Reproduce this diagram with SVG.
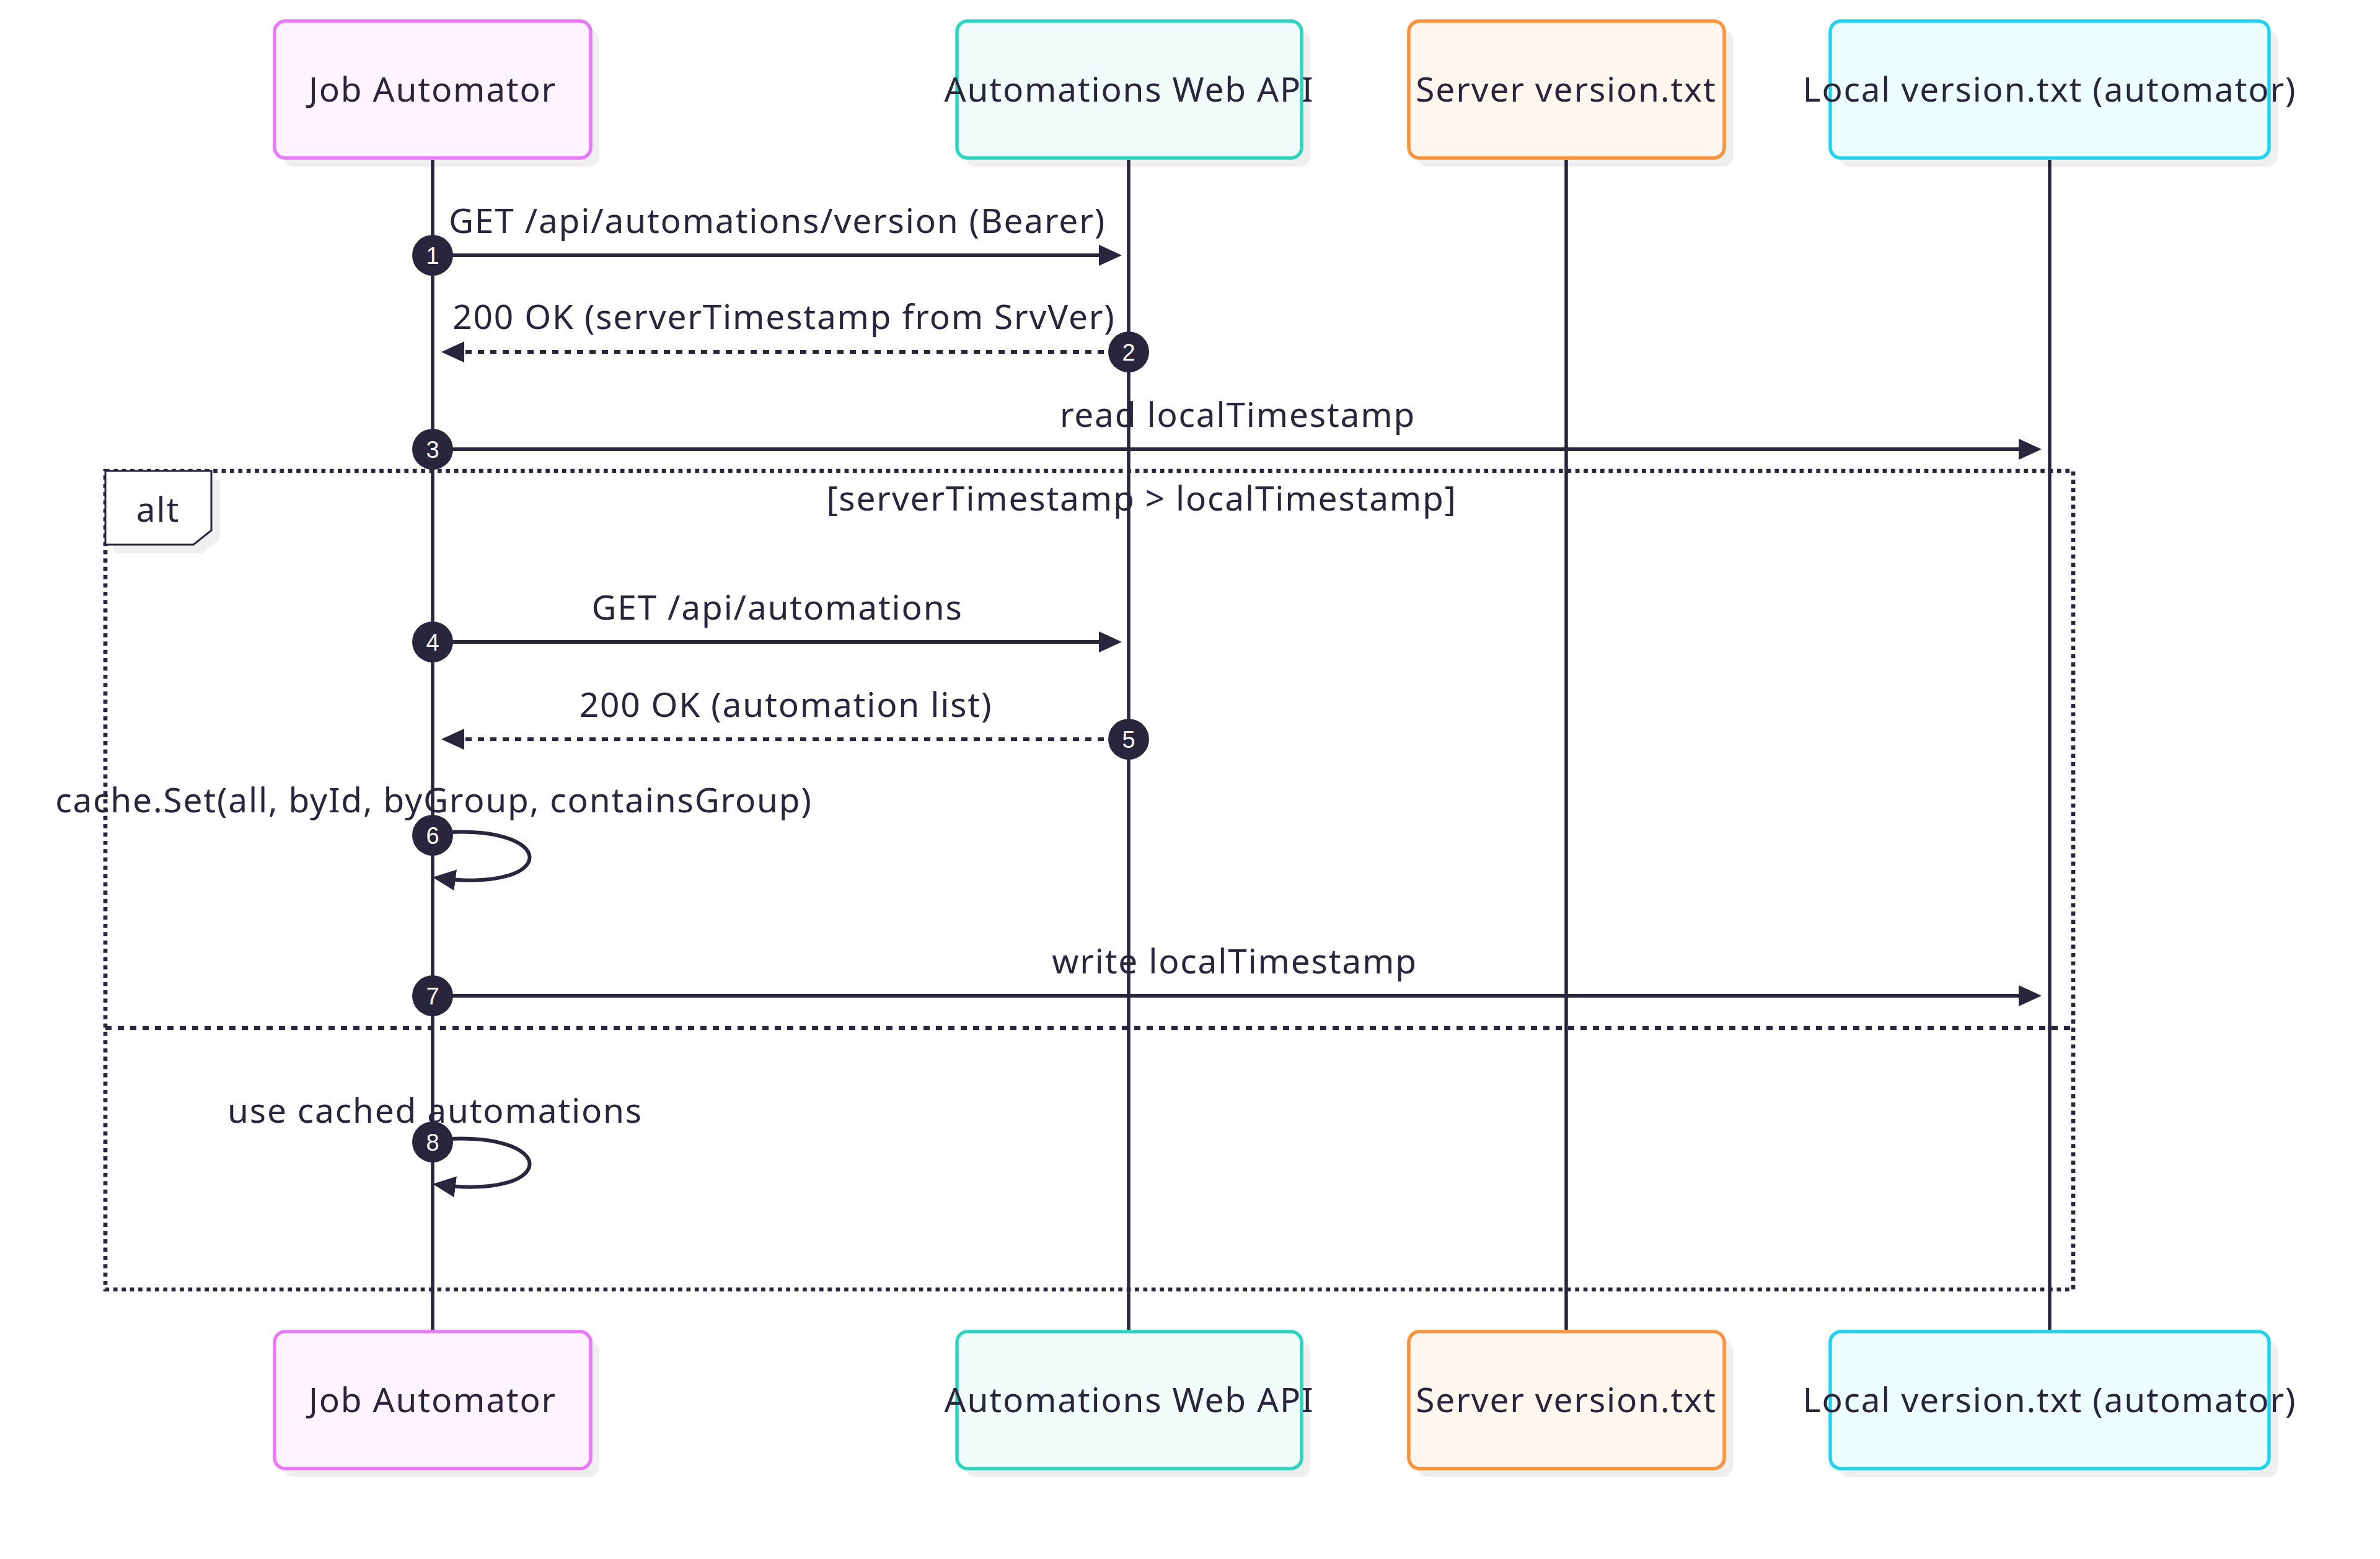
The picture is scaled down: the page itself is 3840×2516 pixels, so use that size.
<svg xmlns="http://www.w3.org/2000/svg" width="3840" height="2516" viewBox="0 0 3840 2516">
<style>
  .bg { fill: #ffffff; }
  .lbl { font-family: "Noto Sans", "Open Sans", "DejaVu Sans", sans-serif; font-size: 55px; letter-spacing: 1.8px; fill: #29253d; text-anchor: middle; }
  .num { font-family: "Liberation Sans", Arial, sans-serif; font-size: 38px; fill: #ffffff; text-anchor: middle; }
  .shadow { fill: #efefef; }
  .life { stroke: #29253d; stroke-width: 5.5; fill: none; }
  .msg { stroke: #29253d; stroke-width: 6; fill: none; marker-end: url(#arrow); }
  .dot { stroke-dasharray: 10 10; }
  .circ { fill: #29253d; }
  .frame { stroke: #29253d; stroke-width: 6.7; fill: none; stroke-dasharray: 6.7 6.7; }
  .sep { stroke: #29253d; stroke-width: 6.7; fill: none; stroke-dasharray: 10 10; }
  .a1 { fill: #fdf4ff; stroke: #e879f9; stroke-width: 5.5; }
  .a2 { fill: #f0fdfa; stroke: #2dd4bf; stroke-width: 5.5; }
  .a3 { fill: #fff7ed; stroke: #fb923c; stroke-width: 5.5; }
  .a4 { fill: #ecfeff; stroke: #22d3ee; stroke-width: 5.5; }
</style>
<defs>
  <marker id="arrow" viewBox="0 0 37 34" refX="27" refY="17" markerWidth="37" markerHeight="34" markerUnits="userSpaceOnUse" orient="auto">
    <path d="M0,0 L37,17 L0,34 z" fill="#29253d"/>
  </marker>
</defs>
<rect class="bg" x="0" y="0" width="3840" height="2516"/>

<g id="actor-job-top">
  <rect class="shadow" x="457" y="48" width="510" height="221" rx="17"/>
  <rect class="a1" x="443" y="34" width="510" height="221" rx="17"/>
  <text class="lbl" x="698" y="164">Job Automator</text>
</g>
<g id="actor-api-top">
  <rect class="shadow" x="1558" y="48" width="556" height="221" rx="17"/>
  <rect class="a2" x="1544" y="34" width="556" height="221" rx="17"/>
  <text class="lbl" x="1822" y="164">Automations Web API</text>
</g>
<g id="actor-srv-top">
  <rect class="shadow" x="2287" y="48" width="509" height="221" rx="17"/>
  <rect class="a3" x="2273" y="34" width="509" height="221" rx="17"/>
  <text class="lbl" x="2527" y="164">Server version.txt</text>
</g>
<g id="actor-local-top">
  <rect class="shadow" x="2967" y="48" width="708" height="221" rx="17"/>
  <rect class="a4" x="2953" y="34" width="708" height="221" rx="17"/>
  <text class="lbl" x="3307" y="164">Local version.txt (automator)</text>
</g>

<g id="actor-job-bottom">
  <rect class="shadow" x="457" y="2163" width="510" height="221" rx="17"/>
  <rect class="a1" x="443" y="2149" width="510" height="221" rx="17"/>
  <text class="lbl" x="698" y="2279">Job Automator</text>
</g>
<g id="actor-api-bottom">
  <rect class="shadow" x="1558" y="2163" width="556" height="221" rx="17"/>
  <rect class="a2" x="1544" y="2149" width="556" height="221" rx="17"/>
  <text class="lbl" x="1822" y="2279">Automations Web API</text>
</g>
<g id="actor-srv-bottom">
  <rect class="shadow" x="2287" y="2163" width="509" height="221" rx="17"/>
  <rect class="a3" x="2273" y="2149" width="509" height="221" rx="17"/>
  <text class="lbl" x="2527" y="2279">Server version.txt</text>
</g>
<g id="actor-local-bottom">
  <rect class="shadow" x="2967" y="2163" width="708" height="221" rx="17"/>
  <rect class="a4" x="2953" y="2149" width="708" height="221" rx="17"/>
  <text class="lbl" x="3307" y="2279">Local version.txt (automator)</text>
</g>

<g id="lifelines">
  <line class="life" x1="698" y1="258" x2="698" y2="2146"/>
  <line class="life" x1="1821" y1="258" x2="1821" y2="2146"/>
  <line class="life" x1="2527" y1="258" x2="2527" y2="2146"/>
  <line class="life" x1="3307" y1="258" x2="3307" y2="2146"/>
</g>

<g id="alt-frame">
  <rect class="frame" x="170" y="760" width="3175" height="1321"/>
  <line class="sep" x1="170" y1="1659" x2="3345" y2="1659"/>
  <polygon class="shadow" points="184,774 355,774 355,870 326,893 184,893"/>
  <polygon points="170,760 341,760 341,856 312,879 170,879" fill="#ffffff" stroke="#29253d" stroke-width="3"/>
  <text class="lbl" x="255" y="842">alt</text>
  <text class="lbl" x="1842" y="824">[serverTimestamp &gt; localTimestamp]</text>
</g>

<g id="connectors">
  <line class="msg" x1="698" y1="412" x2="1800" y2="412"/>
  <text class="lbl" x="1254" y="376">GET /api/automations/version (Bearer)</text>

  <line class="msg dot" x1="1821" y1="568" x2="722" y2="568"/>
  <text class="lbl" x="1265" y="531">200 OK (serverTimestamp from SrvVer)</text>

  <line class="msg" x1="698" y1="725" x2="3284" y2="725"/>
  <text class="lbl" x="1997" y="689">read localTimestamp</text>

  <line class="msg" x1="698" y1="1036" x2="1800" y2="1036"/>
  <text class="lbl" x="1254" y="1000">GET /api/automations</text>

  <line class="msg dot" x1="1821" y1="1193" x2="722" y2="1193"/>
  <text class="lbl" x="1268" y="1157">200 OK (automation list)</text>

  <path class="msg" d="M698,1345 C905,1325 905,1442 708,1417"/>
  <text class="lbl" x="700" y="1311">cache.Set(all, byId, byGroup, containsGroup)</text>

  <line class="msg" x1="698" y1="1607" x2="3284" y2="1607"/>
  <text class="lbl" x="1992" y="1571">write localTimestamp</text>

  <path class="msg" d="M698,1840 C905,1820 905,1937 708,1912"/>
  <text class="lbl" x="702" y="1812">use cached automations</text>
</g>

<g id="sequence-numbers">
  <circle class="circ" cx="698" cy="412" r="33"/><text class="num" x="698" y="426">1</text>
  <circle class="circ" cx="1821" cy="568" r="33"/><text class="num" x="1821" y="582">2</text>
  <circle class="circ" cx="698" cy="725" r="33"/><text class="num" x="698" y="739">3</text>
  <circle class="circ" cx="698" cy="1036" r="33"/><text class="num" x="698" y="1050">4</text>
  <circle class="circ" cx="1821" cy="1193" r="33"/><text class="num" x="1821" y="1207">5</text>
  <circle class="circ" cx="698" cy="1348" r="33"/><text class="num" x="698" y="1362">6</text>
  <circle class="circ" cx="698" cy="1607" r="33"/><text class="num" x="698" y="1621">7</text>
  <circle class="circ" cx="698" cy="1843" r="33"/><text class="num" x="698" y="1857">8</text>
</g>
</svg>
